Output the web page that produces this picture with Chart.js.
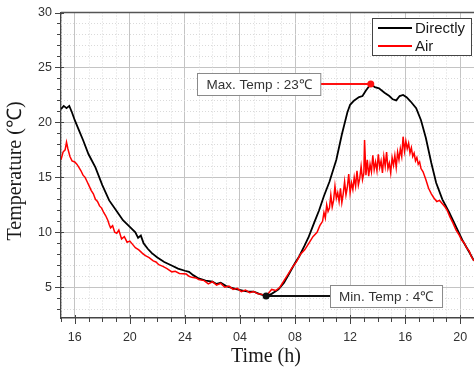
<!DOCTYPE html>
<html><head><meta charset="utf-8">
<script src="https://cdn.jsdelivr.net/npm/chart.js@4/dist/chart.umd.min.js"></script>
<style>html,body{margin:0;padding:0;background:#fff}#wrap{width:474px;height:372px;position:relative}</style>
</head><body><div id="wrap"><canvas id="c" width="474" height="372"></canvas></div>
<script>
// Time in continuous hours (15 = 15:00 day 1, 24 = midnight, 40 = 16:00 day 2)
const directlyTime = [15.0,15.2,15.4,15.6,15.8,16.0,16.3,16.6,17.0,17.5,18.0,18.5,19.0,19.5,20.0,20.4,20.6,20.8,21.0,21.3,21.6,22.0,22.5,23.0,23.5,24.0,24.3,24.6,25.0,25.5,26.0,26.3,26.6,27.0,27.4,27.8,28.2,28.6,29.0,29.4,29.9,30.3,30.8,31.2,31.6,32.0,32.3,32.7,33.0,33.4,33.75,34.1,34.5,35.0,35.4,35.8,36.0,36.3,36.65,36.9,37.15,37.5,37.8,38.1,38.5,38.85,39.1,39.35,39.6,39.85,40.1,40.4,40.8,41.15,41.5,41.9,42.25,42.7,43.2,43.7,44.15,44.65,45.0];
const directlyTemp = [21.2,21.5,21.3,21.5,20.9,20.2,19.3,18.4,17.1,15.9,14.3,12.9,12.0,11.1,10.5,10.0,9.5,9.7,9.0,8.5,8.1,7.7,7.3,7.0,6.7,6.5,6.4,6.1,5.8,5.6,5.5,5.3,5.4,5.1,4.95,4.8,4.7,4.6,4.6,4.4,4.2,4.4,4.8,5.4,6.3,7.2,7.8,8.8,9.6,10.9,12.0,13.3,14.6,16.6,18.9,20.9,21.6,22.0,22.3,22.4,22.9,23.5,23.2,23.1,22.7,22.4,22.1,22.0,22.4,22.5,22.3,21.9,21.3,20.2,18.6,16.3,14.5,13.0,11.8,10.5,9.3,8.2,7.4];
const airTime = [15.0,15.15,15.3,15.4,15.5,15.65,15.8,16.0,16.15,16.3,16.45,16.6,16.75,16.9,17.05,17.2,17.35,17.5,17.65,17.8,17.95,18.1,18.25,18.4,18.5,18.6,18.75,18.9,19.05,19.2,19.4,19.6,19.8,20.0,20.2,20.4,20.65,20.9,21.1,21.4,21.7,21.9,22.1,22.4,22.7,23.05,23.3,23.6,24.1,24.3,24.5,24.8,25.0,25.4,25.7,26.0,26.3,26.6,26.9,27.2,27.5,27.8,28.1,28.4,28.7,29.0,29.3,29.6,29.9,30.1,30.3,30.6,30.9,31.2,31.5,31.8,32.1,32.4,32.7,33.0,33.3,33.6,33.8,34.0,34.1,34.2,34.3,34.4,34.5,34.6,34.7,34.8,34.9,35.0,35.1,35.2,35.3,35.4,35.5,35.6,35.7,35.8,35.9,36.0,36.1,36.2,36.3,36.4,36.5,36.6,36.7,36.8,36.9,37.0,37.05,37.15,37.25,37.35,37.45,37.55,37.65,37.75,37.85,37.95,38.05,38.15,38.25,38.35,38.45,38.55,38.65,38.75,38.85,38.95,39.05,39.15,39.25,39.35,39.45,39.55,39.65,39.75,39.85,39.95,40.05,40.15,40.25,40.35,40.45,40.55,40.65,40.75,40.85,40.95,41.05,41.15,41.3,41.5,41.7,41.9,42.1,42.3,42.5,42.7,42.9,43.05,43.25,43.45,43.7,43.9,44.1,44.3,44.45,44.65,44.8,45.0];
const airTemp = [16.6,17.3,17.5,18.2,17.6,16.9,16.5,16.4,16.2,15.9,15.6,15.2,15.0,14.6,14.2,13.8,13.5,13.0,12.8,12.4,12.2,11.8,11.5,11.1,10.7,10.4,10.6,10.0,9.9,10.2,9.4,9.6,9.1,9.2,8.9,8.6,8.4,8.1,7.9,7.7,7.4,7.3,7.05,6.9,6.7,6.4,6.45,6.25,6.2,6.0,5.9,5.85,5.7,5.6,5.3,5.5,5.2,5.35,5.0,5.1,4.8,4.9,4.6,4.75,4.5,4.6,4.4,4.35,4.2,4.5,4.8,4.7,5.0,5.6,6.2,6.8,7.3,8.0,8.4,9.0,9.6,10.0,10.6,11.0,11.8,11.3,12.5,11.9,12.2,13.4,12.3,12.9,14.2,13.1,13.6,12.8,14.0,12.7,13.5,14.6,13.4,14.1,15.3,13.6,14.5,13.9,15.0,14.2,15.6,14.3,14.9,16.0,14.8,15.4,18.4,15.2,16.6,15.1,16.2,15.5,17.0,15.7,16.4,15.6,17.1,15.9,16.5,15.4,16.9,16.0,17.3,15.8,16.3,15.4,16.8,16.1,17.0,15.9,17.3,16.6,17.6,16.9,18.7,17.4,18.3,17.6,18.1,17.2,17.7,16.9,17.2,16.5,16.8,16.2,16.4,15.8,15.5,14.8,14.0,13.5,13.1,12.8,12.9,12.6,12.3,12.0,11.4,10.9,10.2,9.8,9.3,9.0,8.6,8.3,7.8,7.4];
const seriesNames = ['Directly', 'Air'];
const xTickHours = [16, 20, 24, 28, 32, 36, 40, 44];
const xTickLabels = ['16', '20', '24', '04', '08', '12', '16', '20'];
const yTickValues = [5, 10, 15, 20, 25, 30];
const xTitle = 'Time (h)';
const yTitle = 'Temperature (\u2103)';
const maxLabel = 'Max. Temp : 23\u2103';
const minLabel = 'Min. Temp : 4\u2103';

const directlyPts = directlyTime.map((t, i) => ({x: t, y: directlyTemp[i]}));
const airPts = airTime.map((t, i) => ({x: t, y: airTemp[i]}));
const isInt = v => Math.abs(v - Math.round(v)) < 1e-6;
const SANS = '"Liberation Sans", Arial, sans-serif';
const SERIF = '"Liberation Serif", "Times New Roman", serif';

const deco = {
  id: 'deco',
  beforeDatasetsDraw(chart) {
    const {ctx, chartArea: a, scales: {x, y}} = chart;
    ctx.save();
    ctx.strokeStyle = '#dadada';
    ctx.lineWidth = 1;
    ctx.setLineDash([1, 2]);
    for (let h = Math.ceil(x.min); h <= x.max; h++) {
      if (xTickHours.includes(h)) continue;
      const px = Math.round(x.getPixelForValue(h)) + 0.5;
      ctx.beginPath(); ctx.moveTo(px, a.top); ctx.lineTo(px, a.bottom); ctx.stroke();
    }
    for (let v = Math.ceil(y.min); v < y.max; v++) {
      if (yTickValues.includes(v)) continue;
      const py = Math.round(y.getPixelForValue(v)) + 0.5;
      ctx.beginPath(); ctx.moveTo(a.left, py); ctx.lineTo(a.right, py); ctx.stroke();
    }
    ctx.restore();
  },
  afterDraw(chart) {
    const {ctx, chartArea: a, scales: {x, y}} = chart;
    ctx.save();
    ctx.setLineDash([]);
    // top frame
    ctx.strokeStyle = '#555';
    ctx.lineWidth = 1.5;
    ctx.beginPath(); ctx.moveTo(a.left, a.top); ctx.lineTo(a.right, a.top); ctx.stroke();
    // tick marks
    ctx.lineWidth = 1;
    ctx.strokeStyle = '#444';
    for (let v = Math.ceil(y.min); v <= y.max; v++) {
      const py = Math.round(y.getPixelForValue(v)) + 0.5;
      const major = yTickValues.includes(v);
      ctx.beginPath(); ctx.moveTo(a.left - (major ? 6 : 4), py); ctx.lineTo(a.left + (major ? 3 : 0), py); ctx.stroke();
    }
    for (let h = Math.ceil(x.min); h <= x.max; h++) {
      const px = Math.round(x.getPixelForValue(h)) + 0.5;
      const major = xTickHours.includes(h);
      ctx.beginPath(); ctx.moveTo(px, a.bottom - (major ? 3 : 0)); ctx.lineTo(px, a.bottom + (major ? 6 : 4)); ctx.stroke();
    }
    // axis titles
    ctx.fillStyle = '#1a1a1a';
    ctx.font = '20px ' + SERIF;
    ctx.textAlign = 'center';
    ctx.textBaseline = 'middle';
    ctx.fillText(xTitle, 266, 357);
    ctx.save();
    ctx.translate(16, 171);
    ctx.rotate(-Math.PI / 2);
    ctx.fillText(yTitle, 0, 0);
    ctx.restore();

    // legend
    const ds = chart.data.datasets;
    const lx = 372, ly = 18, lw = 99, lh = 37;
    ctx.fillStyle = '#fff';
    ctx.fillRect(lx, ly, lw, lh);
    ctx.strokeStyle = '#444';
    ctx.lineWidth = 1;
    ctx.strokeRect(lx + 0.5, ly + 0.5, lw, lh);
    ctx.font = '15px ' + SANS;
    ctx.textAlign = 'left';
    ctx.textBaseline = 'middle';
    const order = [1, 0];
    order.forEach((di, k) => {
      const yy = ly + 10 + k * 18;
      ctx.strokeStyle = ds[di].borderColor;
      ctx.lineWidth = 2;
      ctx.beginPath(); ctx.moveTo(lx + 6, yy); ctx.lineTo(lx + 40, yy); ctx.stroke();
      ctx.fillStyle = '#1a1a1a';
      ctx.fillText(ds[di].label, lx + 43, yy + 1);
    });

    // annotations
    const maxI = directlyTemp.indexOf(Math.max(...directlyTemp));
    const minI = directlyTemp.indexOf(Math.min(...directlyTemp));
    const mx = x.getPixelForValue(directlyTime[maxI]), my = y.getPixelForValue(directlyTemp[maxI]);
    const nx = x.getPixelForValue(directlyTime[minI]), ny = y.getPixelForValue(directlyTemp[minI]);
    ctx.font = '13.5px ' + SANS;
    const drawBox = (text, left, cy) => {
      const w = ctx.measureText(text).width + 18, h = 22;
      ctx.fillStyle = '#fff';
      ctx.fillRect(left, cy - h / 2, w, h);
      ctx.strokeStyle = '#8a8a8a';
      ctx.lineWidth = 1;
      ctx.strokeRect(Math.round(left) + 0.5, Math.round(cy - h / 2) + 0.5, w, h);
      ctx.fillStyle = '#333';
      ctx.textAlign = 'center';
      ctx.fillText(text, left + w / 2, cy + 1);
      return w;
    };
    const mw = ctx.measureText(maxLabel).width + 18;
    const mLeft = mx - 50 - mw;
    ctx.strokeStyle = '#ff1010'; ctx.lineWidth = 2;
    ctx.beginPath(); ctx.moveTo(mLeft + mw, my); ctx.lineTo(mx, my); ctx.stroke();
    drawBox(maxLabel, mLeft, my);
    ctx.fillStyle = '#ff1010';
    ctx.beginPath(); ctx.arc(mx, my, 3.5, 0, Math.PI * 2); ctx.fill();
    const nLeft = nx + 64;
    ctx.strokeStyle = '#111'; ctx.lineWidth = 2;
    ctx.beginPath(); ctx.moveTo(nx, ny); ctx.lineTo(nLeft, ny); ctx.stroke();
    drawBox(minLabel, nLeft, ny);
    ctx.fillStyle = '#111';
    ctx.beginPath(); ctx.arc(nx, ny, 3.5, 0, Math.PI * 2); ctx.fill();
    ctx.restore();
  }
};

new Chart(document.getElementById('c'), {
  type: 'line',
  data: {
    datasets: [
      {label: seriesNames[1], data: airPts, borderColor: '#ff0000', borderWidth: 1.5, pointRadius: 0, order: 0, tension: 0},
      {label: seriesNames[0], data: directlyPts, borderColor: '#000000', borderWidth: 1.8, pointRadius: 0, order: 1, tension: 0}
    ]
  },
  options: {
    responsive: false,
    animation: false,
    events: [],
    layout: {padding: {top: 12.5, left: 0, right: 0, bottom: 0}},
    plugins: {legend: {display: false}, tooltip: {enabled: false}},
    scales: {
      x: {
        type: 'linear', min: 15, max: 45,
        afterFit(s) { s.height = 54; s.paddingLeft = 0; s.paddingRight = 0; },
        border: {display: true, color: '#444', width: 1.5},
        grid: {
          drawTicks: false,
          color: c => (c.tick && xTickHours.includes(c.tick.value)) ? '#c4c4c4' : 'rgba(0,0,0,0)',
          lineWidth: 1
        },
        ticks: {
          stepSize: 1, autoSkip: false, maxRotation: 0, maxTicksLimit: 200, padding: 12,
          color: '#333', font: {family: SANS, size: 12.5},
          callback: v => { const i = xTickHours.indexOf(v); return i >= 0 ? xTickLabels[i] : ''; }
        }
      },
      y: {
        type: 'linear', min: 2.2, max: 30,
        afterFit(s) { s.width = 61; s.paddingTop = 0; s.paddingBottom = 0; },
        border: {display: true, color: '#444', width: 1.5},
        grid: {
          drawTicks: false,
          color: c => (c.tick && yTickValues.includes(c.tick.value) && c.tick.value < 30) ? '#c4c4c4' : 'rgba(0,0,0,0)',
          lineWidth: 1
        },
        ticks: {
          stepSize: 1, autoSkip: false, maxTicksLimit: 200, padding: 9,
          color: '#333', font: {family: SANS, size: 12.5},
          callback: v => (isInt(v) && yTickValues.includes(Math.round(v))) ? String(Math.round(v)) : ''
        }
      }
    }
  },
  plugins: [deco]
});
</script>
</body></html>
